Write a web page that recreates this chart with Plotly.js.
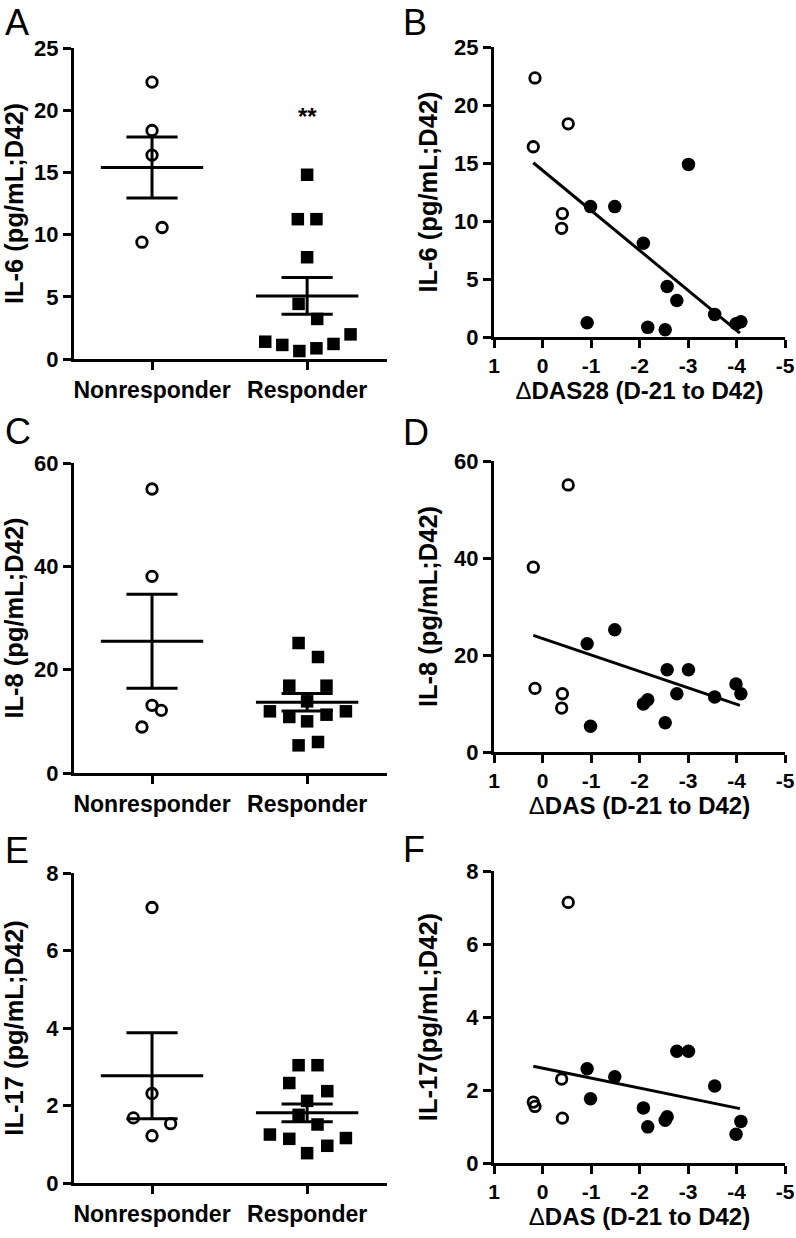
<!DOCTYPE html>
<html>
<head>
<meta charset="utf-8">
<script src="https://cdn.plot.ly/plotly-3.0.1.min.js"></script>
<style>
  html, body { margin: 0; padding: 0; background: #fff; }
  #fig { width: 796px; height: 1238px; }
</style>
</head>
<body>
<div id="fig"></div>
<script>
// ---------- data ----------
const groups = ['Nonresponder', 'Responder'];
const dasTicks = [1, 0, -1, -2, -3, -4, -5];
const dasTickText = ['1', '0', '-1', '-2', '-3', '-4', '-5'];

// dot plots (A, C, E): values and horizontal jitter (category units)
const il6NR = [22.26, 18.37, 16.39, 10.57, 9.39];
const il6NRjit = [0, 0, 0, 0.065, -0.065];
const il6R = [14.81, 11.24, 11.24, 8.18, 4.43, 3.22, 1.98, 1.39, 1.13, 0.64, 0.86, 1.21];
const il6Rjit = [0, -0.06, 0.06, 0, -0.055, 0.065, 0.28, -0.27, -0.16, -0.05, 0.06, 0.17];
const il6Mean = [15.40, 5.07];
const il6Sem = [2.45, 1.48];

const il8NR = [54.97, 38.06, 13.1, 12.13, 8.9];
const il8NRjit = [0, 0, 0, 0.06, -0.065];
const il8R = [25.16, 22.45, 16.9, 16.9, 13.87, 11.94, 10.84, 10.0, 11.29, 11.94, 5.35, 6.0];
const il8Rjit = [-0.055, 0.07, -0.115, 0.125, 0, -0.24, -0.115, 0, 0.125, 0.25, -0.055, 0.07];
const il8Mean = [25.48, 13.68];
const il8Sem = [9.1, 1.7];

const il17NR = [7.11, 2.31, 1.68, 1.53, 1.22];
const il17NRjit = [0, 0, -0.12, 0.12, 0];
const il17R = [3.04, 3.04, 2.58, 2.37, 2.12, 1.76, 1.51, 1.25, 1.14, 1.16, 0.96, 0.77];
const il17Rjit = [-0.055, 0.067, -0.115, 0.13, 0, -0.055, 0.067, -0.24, -0.115, 0.25, 0.13, 0];
const il17Mean = [2.77, 1.81];
const il17Sem = [1.11, 0.23];

// correlation plots (B, D, F): change in DAS per patient
const dasNR = [0.19, 0.155, -0.395, -0.41, -0.53];
const dasR = [-0.92, -0.99, -1.49, -2.08, -2.17, -2.53, -2.57, -2.77, -3.01, -3.55, -3.99, -4.09];

const il6CorNR = [16.4, 22.33, 9.37, 10.64, 18.38];
const il6CorR = [1.23, 11.24, 11.24, 8.08, 0.83, 0.63, 4.36, 3.15, 14.88, 1.95, 1.15, 1.32];
const il8CorNR = [38.1, 13.11, 9.06, 12.01, 55.06];
const il8CorR = [22.31, 5.29, 25.19, 9.89, 10.78, 6.04, 16.96, 12.01, 16.96, 11.33, 14.0, 12.01];
const il17CorNR = [1.67, 1.55, 2.30, 1.23, 7.14];
const il17CorR = [2.58, 1.76, 2.36, 1.51, 0.99, 1.17, 1.27, 3.06, 3.06, 2.11, 0.79, 1.14];

// regression lines (end points)
const fitX = [0.19, -4.07];
const il6FitY = [15.02, 0.34];
const il8FitY = [24.03, 9.61];
const il17FitY = [2.65, 1.49];

// ---------- figure ----------
const W = 796, H = 1238;
const FONT = 'Liberation Sans, Arial, Helvetica, sans-serif';
const fx = p => p / W;
const fy = p => 1 - p / H;
const LW = 3;

const traces = [];
const layout = {
  width: W, height: H,
  margin: { l: 0, r: 0, t: 0, b: 0 },
  paper_bgcolor: '#fff', plot_bgcolor: 'rgba(0,0,0,0)',
  showlegend: false,
  font: { family: FONT, color: '#000', size: 22, weight: 700 },
  annotations: []
};

function axisBase(size) {
  return {
    showline: true, linecolor: '#000', linewidth: LW,
    showgrid: false, zeroline: false,
    ticks: 'outside', ticklen: 8, tickwidth: LW, tickcolor: '#000',
    tickfont: { family: FONT, size: size, weight: 700, color: '#000' },
    fixedrange: true
  };
}

function yAxis(n, top, bottom, range, dtick, title, xname, standoff) {
  layout['yaxis' + (n === 1 ? '' : n)] = Object.assign(axisBase(22), {
    domain: [fy(bottom), fy(top)], range: range, dtick: dtick, anchor: xname,
    title: { text: title, font: { family: FONT, size: 25.5, weight: 700 }, standoff: standoff }
  });
}

function dotPanel(n, top, bottom, nr, nrJit, r, rJit, mean, sem, range, dtick, title, standoff) {
  const xn = 'x' + (n === 1 ? '' : n), yn = 'y' + (n === 1 ? '' : n);
  layout['xaxis' + (n === 1 ? '' : n)] = Object.assign(axisBase(23), {
    domain: [fx(74), fx(387)], range: [-0.503, 1.515], anchor: yn,
    tickvals: [0, 1], ticktext: groups
  });
  yAxis(n, top, bottom, range, dtick, title, xn, standoff);

  traces.push({
    x: nr.map((v, i) => 0 + nrJit[i]), y: nr, xaxis: xn, yaxis: yn,
    type: 'scatter', mode: 'markers', cliponaxis: false, hoverinfo: 'y',
    marker: { symbol: 'circle-open', size: 10.5, color: '#000', line: { width: 2.8, color: '#000' } }
  });
  traces.push({
    x: r.map((v, i) => 1 + rJit[i]), y: r, xaxis: xn, yaxis: yn,
    type: 'scatter', mode: 'markers', cliponaxis: false, hoverinfo: 'y',
    marker: { symbol: 'square', size: 12.5, color: '#000' }
  });
  // mean +/- SEM
  const lx = [], ly = [];
  mean.forEach((m, g) => {
    const s = sem[g];
    lx.push(g - 0.33, g + 0.33, null, g, g, null, g - 0.165, g + 0.165, null, g - 0.165, g + 0.165, null);
    ly.push(m, m, null, m - s, m + s, null, m + s, m + s, null, m - s, m - s, null);
  });
  traces.push({
    x: lx, y: ly, xaxis: xn, yaxis: yn, type: 'scatter', mode: 'lines',
    cliponaxis: false, hoverinfo: 'skip', line: { color: '#000', width: LW }
  });
}

function corPanel(n, top, bottom, nrY, rY, fitY, range, dtick, ytitle, xtitle, standoff) {
  const xn = 'x' + n, yn = 'y' + n;
  layout['xaxis' + n] = Object.assign(axisBase(21), {
    domain: [fx(494), fx(785)], range: [1, -5], anchor: yn,
    tickvals: dasTicks, ticktext: dasTickText,
    title: { text: xtitle, font: { family: FONT, size: 24, weight: 700 }, standoff: 6 }
  });
  yAxis(n, top, bottom, range, dtick, ytitle, xn, standoff);

  traces.push({
    x: fitX, y: fitY, xaxis: xn, yaxis: yn, type: 'scatter', mode: 'lines',
    hoverinfo: 'skip', line: { color: '#000', width: LW }
  });
  traces.push({
    x: dasNR, y: nrY, xaxis: xn, yaxis: yn, type: 'scatter', mode: 'markers',
    cliponaxis: false,
    marker: { symbol: 'circle-open', size: 10.5, color: '#000', line: { width: 2.8, color: '#000' } }
  });
  traces.push({
    x: dasR, y: rY, xaxis: xn, yaxis: yn, type: 'scatter', mode: 'markers',
    cliponaxis: false,
    marker: { symbol: 'circle', size: 13.5, color: '#000' }
  });
}

const delta = '<span style="font-weight:normal">Δ</span>';

dotPanel(1, 48, 359, il6NR, il6NRjit, il6R, il6Rjit, il6Mean, il6Sem, [0, 25], 5, 'IL-6 (pg/mL;D42)', 10);
corPanel(2, 47, 337, il6CorNR, il6CorR, il6FitY, [0, 25], 5, 'IL-6 (pg/mL;D42)', delta + 'DAS28 (D-21 to D42)', 10);
dotPanel(3, 463, 773, il8NR, il8NRjit, il8R, il8Rjit, il8Mean, il8Sem, [0, 60], 20, 'IL-8 (pg/mL;D42)', 10);
corPanel(4, 461, 752, il8CorNR, il8CorR, il8FitY, [0, 60], 20, 'IL-8 (pg/mL;D42)', delta + 'DAS (D-21 to D42)', 10);
dotPanel(5, 873, 1183, il17NR, il17NRjit, il17R, il17Rjit, il17Mean, il17Sem, [0, 8], 2, 'IL-17 (pg/mL;D42)', 22);
corPanel(6, 871, 1163, il17CorNR, il17CorR, il17FitY, [0, 8], 2, 'IL-17(pg/mL;D42)', delta + 'DAS (D-21 to D42)', 22);

// significance mark on panel A
layout.annotations.push({
  x: 1, y: 19.8, xref: 'x', yref: 'y', text: '**', showarrow: false,
  font: { family: FONT, size: 24, weight: 700, color: '#000' }, yshift: -4
});

// panel letters
const letters = [['A', 3, 22], ['B', 401, 22], ['C', 3, 431], ['D', 401, 432], ['E', 3, 850], ['F', 401, 849]];
letters.forEach(([t, px, py]) => {
  layout.annotations.push({
    x: fx(px), y: fy(py), xref: 'paper', yref: 'paper', xanchor: 'left', yanchor: 'middle',
    text: t, showarrow: false,
    font: { family: FONT, size: 36, weight: 400, color: '#000' }
  });
});

Plotly.newPlot('fig', traces, layout, { displayModeBar: false, staticPlot: true });
</script>
</body>
</html>
